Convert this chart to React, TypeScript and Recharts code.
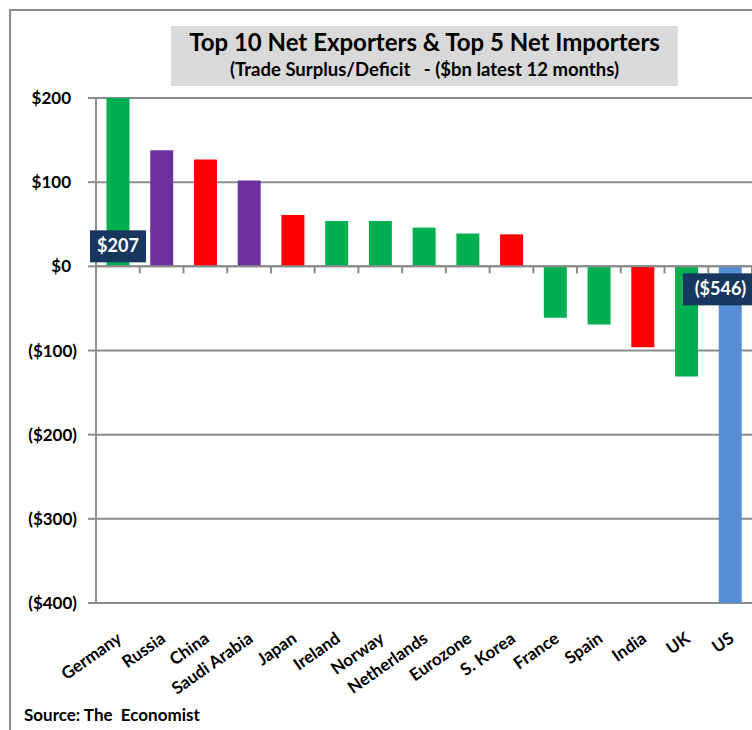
import React from 'react';
import { BarChart, Bar, XAxis, YAxis, CartesianGrid, ReferenceLine, Cell, LabelList } from 'recharts';

const countries = ['Germany', 'Russia', 'China', 'Saudi Arabia', 'Japan', 'Ireland', 'Norway', 'Netherlands', 'Eurozone', 'S. Korea', 'France', 'Spain', 'India', 'UK', 'US'];
const balances = [207, 138, 127, 102, 61, 54, 54, 46, 39, 38, -61, -69, -96, -131, -546];
const barColors = ['#00B050', '#7030A0', '#FF0000', '#7030A0', '#FF0000', '#00B050', '#00B050', '#00B050', '#00B050', '#FF0000', '#00B050', '#00B050', '#FF0000', '#00B050', '#558ED5'];
const callouts = ['Germany', 'US'];
const yTicks = [-400, -300, -200, -100, 0, 100, 200];

const data = countries.map((country, i) => ({
  country,
  value: balances[i],
  callout: callouts.includes(country),
}));

const FONT = 'Lato, "Liberation Sans", sans-serif';
const GRID = '#8c8c8c';
const W = 752;
const H = 730;

const fmt = (v: number) => (v < 0 ? `($${Math.abs(v)})` : `$${v}`);

const YTick = ({ x, y, payload }: any) => {
  const v = payload.value;
  return (
    <text x={v < 0 ? x : x - 6} y={y} dy={6} textAnchor="end" fontSize={17} fontWeight={700} fontFamily={FONT} fill="#000">
      {fmt(v)}
    </text>
  );
};

const XTick = ({ x, y, payload }: any) => (
  <g transform={`translate(${x + 5},${y + 38})`}>
    <text textAnchor="end" transform="rotate(-35)" fontSize={17} fontWeight={700} fontFamily={FONT} fill="#000">
      {payload.value}
    </text>
  </g>
);

// zero line with category tick marks hanging below it
const ZeroAxis = (props: any) => {
  const { x1, x2, y1 } = props;
  const step = (x2 - x1) / countries.length;
  return (
    <g>
      <line x1={x1} x2={x2} y1={y1} y2={y1} stroke={GRID} strokeWidth={2} />
      {countries.map((c, i) => (
        <line key={c} x1={x1 + step * (i + 1)} x2={x1 + step * (i + 1)} y1={y1} y2={y1 + 7} stroke={GRID} strokeWidth={2} />
      ))}
    </g>
  );
};

const Callout = (props: any) => {
  const index = props.index;
  const row = data[index];
  if (!row || !row.callout) return null;
  const vb = props.viewBox ?? props;
  const { x, y, width, height } = vb;
  const base = row.value >= 0 ? Math.max(y, y + height) : Math.min(y, y + height);
  const text = fmt(row.value);
  const w = 18 + text.length * 9.5;
  const h = 32;
  const left = Math.min(x + width / 2 - w / 2, W + 6 - w);
  const top = row.value >= 0 ? base - 4 - h : base + 7;
  return (
    <g>
      <rect x={left} y={top} width={w} height={h} fill="#17375E" />
      <text x={left + w / 2} y={top + h / 2} dy={6} textAnchor="middle" fontSize={18} fontWeight={700} fontFamily={FONT} fill="#fff">
        {text}
      </text>
    </g>
  );
};

export default function App() {
  return (
    <div style={{ position: 'absolute', left: 0, top: 0, width: W, height: H, background: '#fff', overflow: 'hidden', fontFamily: FONT }}>
      <div style={{ position: 'absolute', left: 9, top: 9, width: W, height: H, borderLeft: `2px solid ${GRID}`, borderTop: `2px solid ${GRID}` }} />
      <div
        style={{
          position: 'absolute', left: 171, top: 26, width: 507, height: 60, background: '#D9D9D9',
          textAlign: 'center', fontWeight: 700, color: '#000',
        }}
      >
        <div style={{ fontSize: 24, lineHeight: '26px', marginTop: 3 }}>Top 10 Net Exporters &amp; Top 5 Net Importers</div>
        <div style={{ fontSize: 18.5, lineHeight: '22px', marginTop: 3, whiteSpace: 'pre' }}>{'(Trade Surplus/Deficit   - ($bn latest 12 months)'}</div>
      </div>
      <div style={{ position: 'absolute', left: 24, top: 704, fontSize: 17, fontWeight: 700, whiteSpace: 'pre', color: '#000' }}>
        {'Source: The  Economist'}
      </div>
      <div style={{ position: 'absolute', left: 0, top: 0 }}>
        <BarChart width={W} height={H} data={data} margin={{ top: 98, right: 0, bottom: 27, left: 0 }} barCategoryGap="24%">
          <CartesianGrid vertical={false} stroke={GRID} strokeWidth={2} />
          <XAxis dataKey="country" interval={0} axisLine={false} tickLine={false} tickSize={0} tickMargin={0} height={100} tick={<XTick />} />
          <YAxis
            type="number"
            domain={[-400, 200]}
            ticks={yTicks}
            allowDataOverflow
            width={96}
            axisLine={{ stroke: GRID, strokeWidth: 2 }}
            tickLine={{ stroke: GRID, strokeWidth: 2 }}
            tickSize={8}
            tickMargin={11}
            tick={<YTick />}
          />
          <ReferenceLine y={0} shape={<ZeroAxis />} />
          <Bar dataKey="value" isAnimationActive={false}>
            {data.map((d, i) => (
              <Cell key={d.country} fill={barColors[i]} />
            ))}
            <LabelList dataKey="value" content={<Callout />} />
          </Bar>
        </BarChart>
      </div>
    </div>
  );
}
